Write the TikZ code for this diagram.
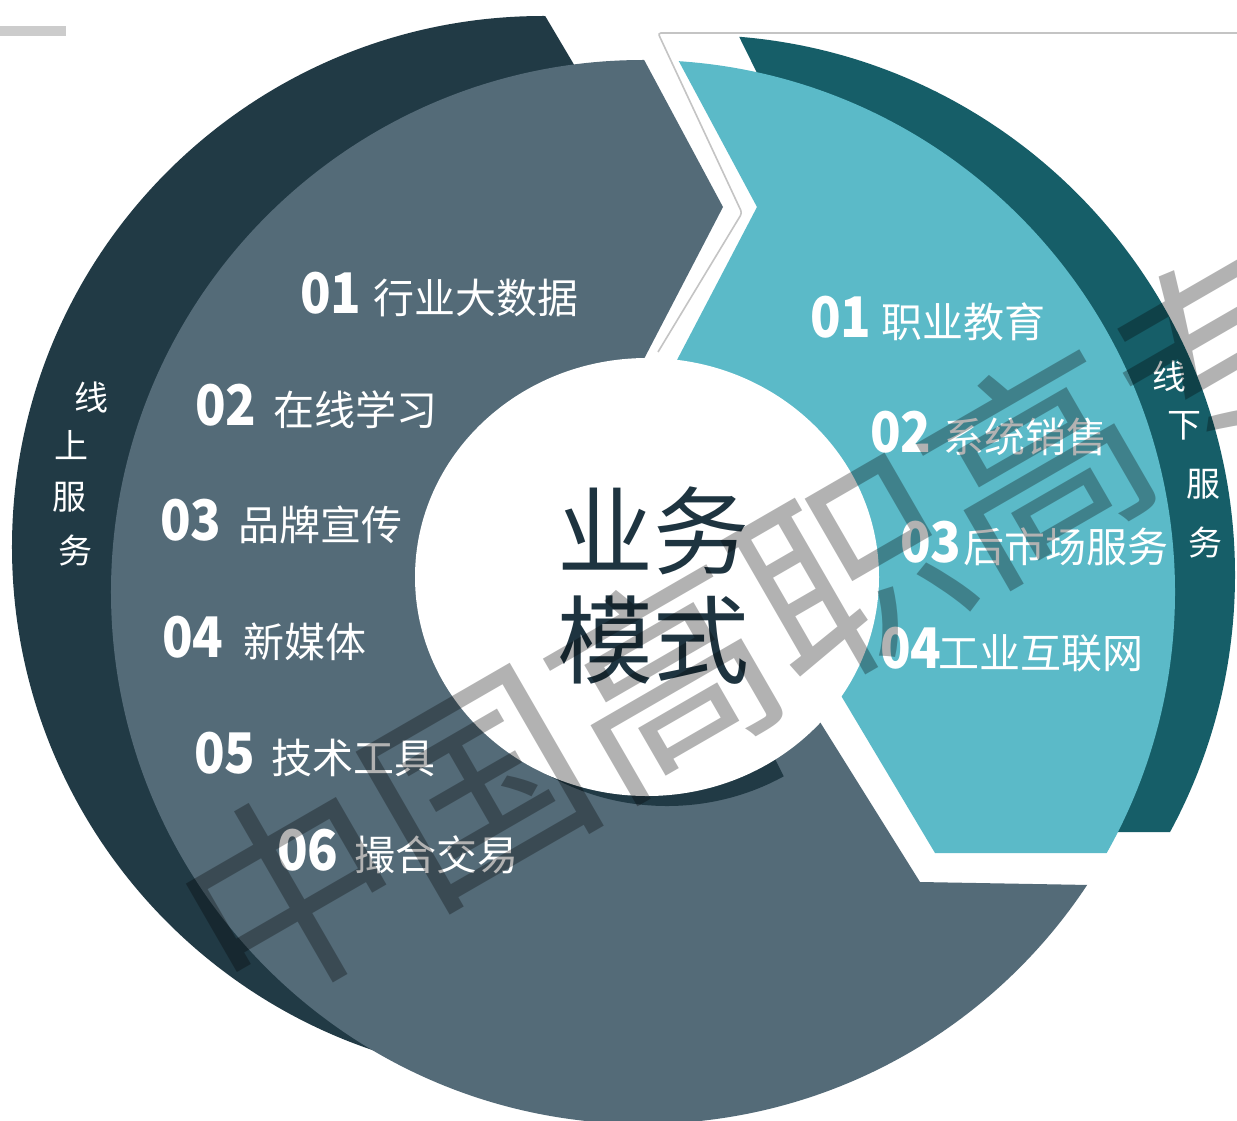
\documentclass[tikz,border=0pt]{standalone}
\usepackage{fontspec}
\newfontfamily\cjk{Noto Sans CJK SC}
\newfontfamily\numf{Noto Sans CJK SC}[FakeStretch=0.9]
\definecolor{graycol}{HTML}{546B78}
\definecolor{darkband}{HTML}{213A45}
\definecolor{tealcol}{HTML}{5BBAC8}
\definecolor{darkteal}{HTML}{165E68}
\definecolor{centertext}{HTML}{1E3440}
\definecolor{barcol}{HTML}{CCCCCC}
\definecolor{linecol}{HTML}{C4C4C4}
\tikzset{
  numtxt/.style={inner sep=0pt, anchor=base west, text=white, font=\numf\bfseries\fontsize{56bp}{60bp}\selectfont},
  labtxt/.style={inner sep=0pt, anchor=base west, text=white, font=\cjk\fontsize{41bp}{46bp}\selectfont},
  vtxt/.style={inner sep=0pt, text=white, font=\cjk\fontsize{34bp}{38bp}\selectfont},
  ctxt/.style={inner sep=0pt, text=centertext, font=\cjk\fontsize{96bp}{100bp}\selectfont},
  wmark/.style={inner sep=0pt, text=black, text opacity=0.3, font=\cjk\fontsize{215bp}{215bp}\selectfont},
}
\begin{document}
\begin{tikzpicture}[x=1bp,y=-1bp]
\useasboundingbox (0,0) rectangle (1237,1121);
\clip (0,0) rectangle (1237,1121);
\fill[white] (0,0) rectangle (1237,1121);
\fill[barcol] (0,26) rectangle (66,36);
\draw[linecol, line width=1.6bp, rounded corners=3bp] (1237,33) -- (658,33) -- (742,213) -- (658,352);

% dark left band
\begin{scope}
\clip (0,0) -- (535.7,0) -- (640,176) -- (643,592) -- (643,1121) -- (0,1121) -- cycle;
\fill[darkband] (543,547) circle[radius=531bp];
\end{scope}

% dark teal band
\begin{scope}
\clip (721,0) -- (1237,0) -- (1237,832) -- (950,832) -- (850,600) -- (800,160) -- cycle;
\fill[darkteal] (695,575) circle[radius=540bp];
\end{scope}

% gray main part
\begin{scope}
\clip (0,0) -- (612,0) -- (723,207) -- (645,357) -- (620,405) -- (775,650) -- (920,882) -- (1090,885) -- (1237,887) -- (1237,1121) -- (0,1121) -- cycle;
\fill[graycol] (643,592) circle[radius=532bp];
\end{scope}

% teal part
\begin{scope}
\clip (646,0) -- (757,207) -- (677,360) -- (660,393) -- (784,600) -- (935,853) -- (1237,853) -- (1237,0) -- cycle;
\fill[tealcol] (643,592) circle[radius=532bp];
\end{scope}

% dark crescent under the centre disc
\begin{scope}
\clip (400,650) -- (720,650) -- (767,743) -- (800,809) -- (400,900) -- cycle;
\fill[darkband] (667,587) ellipse[x radius=232bp, y radius=219bp];
\end{scope}

% centre disc
\fill[white] (647,577) ellipse[x radius=232bp, y radius=219bp];

% centre text
\node[ctxt] (c1) at (653,531) {业务};
\node[ctxt] (c2) at (653,640) {模式};

% left list
\node[numtxt] (ln1) at (300,313) {01};
\node[labtxt] (ll1) at (373,313) {行业大数据};
\node[numtxt] (ln2) at (195,425) {02};
\node[labtxt] (ll2) at (273,425) {在线学习};
\node[numtxt] (ln3) at (160,540) {03};
\node[labtxt] (ll3) at (238,540) {品牌宣传};
\node[numtxt] (ln4) at (162,657) {04};
\node[labtxt] (ll4) at (243,657) {新媒体};
\node[numtxt] (ln5) at (194,773) {05};
\node[labtxt] (ll5) at (271,773) {技术工具};
\node[numtxt] (ln6) at (277,870) {06};
\node[labtxt] (ll6) at (354,870) {撮合交易};

% right list
\node[numtxt] (rn1) at (810,337) {01};
\node[labtxt] (rl1) at (881,337) {职业教育};
\node[numtxt] (rn2) at (870,452) {02};
\node[labtxt] (rl2) at (943,452) {系统销售};
\node[numtxt] (rn3) at (900,562) {03};
\node[labtxt] (rl3) at (963,562) {后市场服务};
\node[numtxt] (rn4) at (880,668) {04};
\node[labtxt] (rl4) at (938,668) {工业互联网};

% vertical labels
\node[vtxt] (v1) at (91,397) {线};
\node[vtxt] (v2) at (71,445) {上};
\node[vtxt] (v3) at (69,497) {服};
\node[vtxt] (v4) at (75,551) {务};
\node[vtxt] (w1) at (1169,376) {线};
\node[vtxt] (w2) at (1184,426) {下};
\node[vtxt] (w3) at (1203,484) {服};
\node[vtxt] (w4) at (1205,543) {务};

% watermark
\node[wmark, rotate=30] (wm) at (757,624) {中国高职高专};
\end{tikzpicture}
\end{document}
